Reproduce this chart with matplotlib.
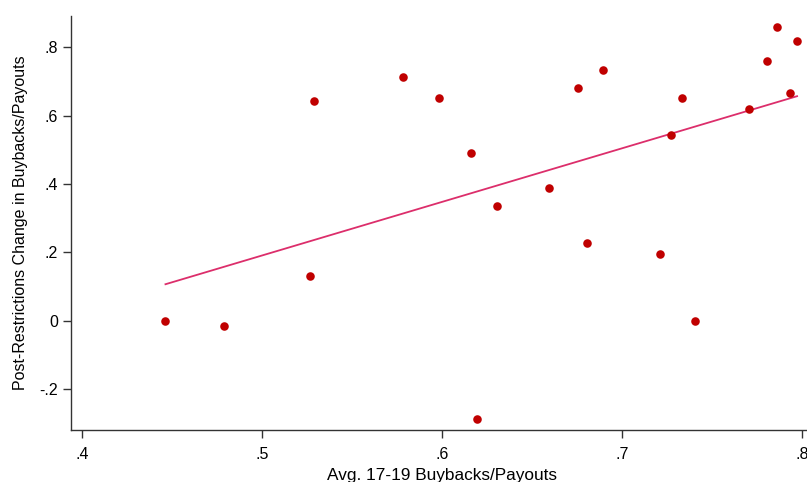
import matplotlib
matplotlib.use('Agg')
import matplotlib.pyplot as plt
import numpy as np

# 데이터
buyback_avg = [0.4463, 0.4787, 0.5289, 0.5268, 0.5785, 0.5980, 0.6160, 0.6304,
               0.6193, 0.6593, 0.6757, 0.6807, 0.6894, 0.7211, 0.7274, 0.7335,
               0.7407, 0.7707, 0.7804, 0.7861, 0.7931, 0.7972]
change_post = [0.000, -0.015, 0.644, 0.131, 0.712, 0.652, 0.491, 0.337,
               -0.289, 0.389, 0.682, 0.227, 0.735, 0.196, 0.543, 0.653,
               0.000, 0.620, 0.759, 0.860, 0.667, 0.819]
x_ticks = [0.4, 0.5, 0.6, 0.7, 0.8]
x_tick_labels = ['.4', '.5', '.6', '.7', '.8']
y_ticks = [-0.2, 0, 0.2, 0.4, 0.6, 0.8]
y_tick_labels = ['-.2', '0', '.2', '.4', '.6', '.8']

plt.rcParams['font.family'] = ['Liberation Sans', 'DejaVu Sans']

x = np.array(buyback_avg)
y = np.array(change_post)

# 선형 적합선
b, a = np.polyfit(x, y, 1)
xs = np.array([x.min(), x.max()])

fig = plt.figure(figsize=(8.07, 4.82), dpi=100)
ax = fig.add_axes([0.0884, 0.1079, 0.9187, 0.859])

ax.scatter(x, y, s=38, color='#C00000', zorder=3, linewidths=0)
ax.plot(xs, a + b * xs, color='#DC2E6B', lw=1.3, zorder=2)

ax.set_xlim(0.394, 0.8059)
ax.set_ylim(-0.32, 0.892)
ax.set_xticks(x_ticks)
ax.set_xticklabels(x_tick_labels)
ax.set_yticks(y_ticks)
ax.set_yticklabels(y_tick_labels, rotation=0)
ax.tick_params(labelsize=11.5, length=6, width=1, color='#333333')
ax.tick_params(axis='x', pad=6.5)
ax.tick_params(axis='y', pad=3.5)

for s in ['top', 'right']:
    ax.spines[s].set_visible(False)
for s in ['left', 'bottom']:
    ax.spines[s].set_linewidth(1)
    ax.spines[s].set_color('#333333')

ax.set_xlabel('Avg. 17-19 Buybacks/Payouts', fontsize=12.4, labelpad=4)
ax.set_ylabel('Post-Restrictions Change in Buybacks/Payouts', fontsize=11.5, labelpad=8)

plt.savefig('out.png', dpi=100)
